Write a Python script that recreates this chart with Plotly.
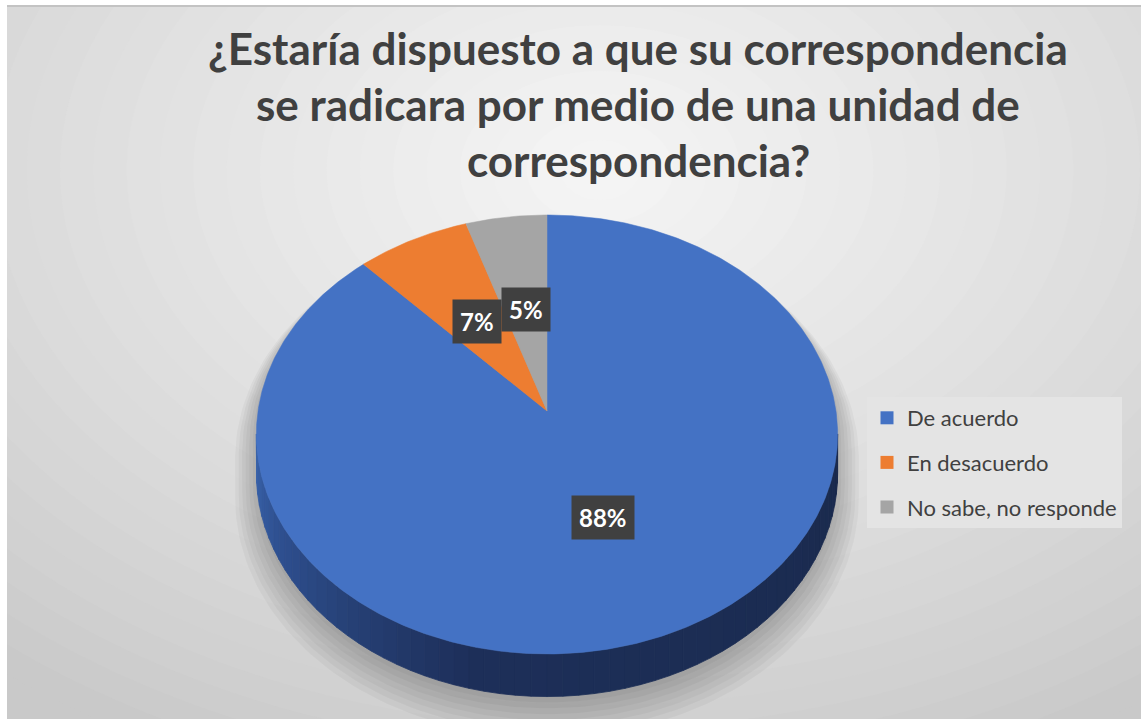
import numpy as np
import plotly.graph_objects as go

# ---------------- data ----------------
categories = ["De acuerdo", "En desacuerdo", "No sabe, no responde"]
values = [88, 7, 5]
colors = ["#4472C4", "#ED7D31", "#A5A5A5"]
title_lines = ["¿Estaría dispuesto a que su correspondencia",
               "se radicara por medio de una unidad de",
               "correspondencia?"]

# ---------------- geometry (pixel space) ----------------
W, H = 1141, 719
CX, CY = 547, 411          # projected pie centre
RX, RY = 289, 217          # radii
K = 0.107                  # perspective factor
DEPTH = 38                 # side thickness


def proj(r, th):
    t = np.radians(th)
    u = r * np.sin(t)
    v = r * np.cos(t)
    d = 1 + K * v
    return CX + RX * u / d, CY - RY * v / d


def proj_bottom(r, th, dy=0.0):
    x, y = proj(r, th)
    v = r * np.cos(np.radians(th))
    return x, y + DEPTH / (1 + K * v) + dy


def lerp_col(c1, c2, f):
    a = [int(c1[i:i + 2], 16) for i in (1, 3, 5)]
    b = [int(c2[i:i + 2], 16) for i in (1, 3, 5)]
    return "rgb(%d,%d,%d)" % tuple(round(a[i] + (b[i] - a[i]) * f) for i in range(3))


fig = go.Figure()

# ---------------- background gradient (shapes) ----------------
shapes = []
n_bg = 28
for i in range(n_bg):
    f = i / (n_bg - 1)            # 0 outer -> 1 inner
    sx = 900 * (1 - f) + 40
    sy = 620 * (1 - f) + 30
    gx, gy = 600, 170
    shapes.append(dict(type="circle", xref="x", yref="y", layer="below",
                       x0=gx - sx, x1=gx + sx, y0=gy - sy, y1=gy + sy,
                       fillcolor=lerp_col("#c9c9c9", "#f4f4f4", f ** 0.9),
                       line=dict(width=0)))
# white frame on top/left + thin top line
shapes.append(dict(type="rect", xref="x", yref="y", layer="below",
                   x0=0, x1=W, y0=0, y1=5, fillcolor="white", line=dict(width=0)))
shapes.append(dict(type="rect", xref="x", yref="y", layer="below",
                   x0=0, x1=7, y0=0, y1=H, fillcolor="white", line=dict(width=0)))
shapes.append(dict(type="rect", xref="x", yref="y", layer="below",
                   x0=7, x1=W, y0=5, y1=7, fillcolor="#c3c3c3", line=dict(width=0)))

# ---------------- shadow of the pie ----------------
def silhouette(r, dy):
    back = np.linspace(264, 456, 120)      # top edge, back half
    front = np.linspace(96, 264, 120)      # bottom edge, front half
    xs, ys = [], []
    for th in back:
        x, y = proj(r, th)
        xs.append(x); ys.append(y + dy)
    for th in front:
        x, y = proj_bottom(r, th, dy)
        xs.append(x); ys.append(y)
    xs.append(xs[0]); ys.append(ys[0])
    return xs, ys

for i in range(7):
    xs, ys = silhouette(1.0 + 0.012 * i, 6 + 2.5 * i)
    fig.add_trace(go.Scatter(x=xs, y=ys, mode="lines", fill="toself",
                             fillcolor="rgba(0,0,0,0.035)", line=dict(width=0),
                             hoverinfo="skip", showlegend=False))

# ---------------- side wall (front) ----------------
n_side = 60
ths = np.linspace(264, 96, n_side + 1)
stops = [(0.0, "#3A64AC"), (0.12, "#2F5192"), (0.42, "#1D2F59"), (1.0, "#1A2A4D")]


def side_col(f):
    for (f1, c1), (f2, c2) in zip(stops[:-1], stops[1:]):
        if f <= f2:
            return lerp_col(c1, c2, (f - f1) / (f2 - f1))
    return stops[-1][1]


for j in range(n_side):
    a, b = ths[j], ths[j + 1]
    pts = np.linspace(a, b, 4)
    xt, yt = zip(*[proj(1, t) for t in pts])
    xb, yb = zip(*[proj_bottom(1, t) for t in pts[::-1]])
    xs = list(xt) + list(xb) + [xt[0]]
    ys = list(yt) + list(yb) + [yt[0]]
    c = side_col(j / (n_side - 1))
    fig.add_trace(go.Scatter(x=xs, y=ys, mode="lines", fill="toself",
                             fillcolor=c, line=dict(width=0.8, color=c),
                             hoverinfo="skip", showlegend=False))

# ---------------- top surface slices ----------------
total = sum(values)
start = 0.0
mids = []
for cat, val, col in zip(categories, values, colors):
    span = 360.0 * val / total
    arc = np.linspace(start, start + span, max(int(span * 2), 4))
    xs = [CX] + [proj(1, t)[0] for t in arc] + [CX]
    ys = [CY] + [proj(1, t)[1] for t in arc] + [CY]
    fig.add_trace(go.Scatter(x=xs, y=ys, mode="lines", fill="toself",
                             fillcolor=col, line=dict(width=0.5, color=col),
                             hoverinfo="skip", showlegend=False))
    mids.append(start + span / 2)
    start += span

# ---------------- legend entries ----------------
for cat, col in zip(categories, colors):
    fig.add_trace(go.Scatter(x=[None], y=[None], mode="markers", name=cat,
                             legendgroup=cat,
                             marker=dict(symbol="square", size=13, color=col)))

# ---------------- data labels ----------------
annotations = []
for val, m in zip(values, mids):
    x, y = proj(0.5, m)
    pct = "%d%%" % round(100 * val / total)
    annotations.append(dict(x=x, y=y, xref="x", yref="y", showarrow=False,
                            text=pct,
                            font=dict(family="Lato", size=24, color="white", weight="bold"),
                            bgcolor="#404040", borderpad=7))

# ---------------- title ----------------
for line, ty in zip(title_lines, [48, 104, 160]):
    annotations.append(dict(x=638, y=ty, xref="x", yref="y", showarrow=False,
                            text=line, xanchor="center", yanchor="middle",
                            font=dict(family="Lato", size=44, color="#404040", weight="bold")))

fig.update_layout(
    width=W, height=H,
    margin=dict(l=0, r=0, t=0, b=0),
    paper_bgcolor="white", plot_bgcolor="#c9c9c9",
    xaxis=dict(range=[0, W], visible=False, fixedrange=True),
    yaxis=dict(range=[H, 0], visible=False, fixedrange=True),
    shapes=shapes, annotations=annotations,
    showlegend=True,
    legend=dict(x=867 / W, y=1 - 397 / H, xanchor="left", yanchor="top",
                bgcolor="#e4e4e4", font=dict(family="Lato", size=22, color="#404040"),
                tracegroupgap=13, itemsizing="trace", traceorder="grouped"),
)

fig.write_html("out.html")
